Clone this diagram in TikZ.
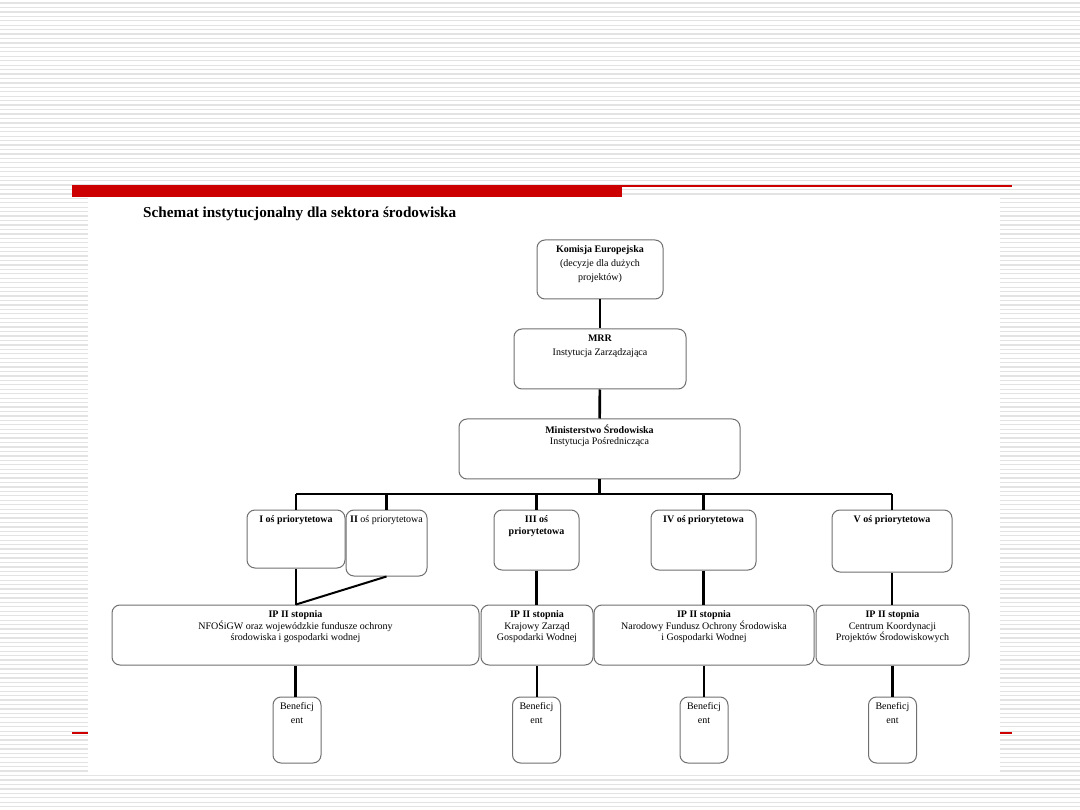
\documentclass[tikz,border=0pt]{standalone}
\usepackage{fontspec}
\setmainfont{Liberation Serif}
\usetikzlibrary{positioning}
\definecolor{stripe}{HTML}{E3E3E3}
\definecolor{barred}{HTML}{CC0000}
\definecolor{boxline}{HTML}{707070}
\tikzset{
  obox/.style={draw=boxline,fill=white,rounded corners=8pt,line width=1pt,inner sep=0pt},
  otxt/.style={anchor=north,yshift=-6pt,align=center,inner sep=0pt,font=\fontsize{10}{11.5}\selectfont},
  owide/.style={otxt,font=\fontsize{10}{14}\selectfont},
  olink/.style={line width=2.6pt,draw=black},
  oslant/.style={line width=2pt,draw=black}
}

\begin{document}
\begin{tikzpicture}[x=1pt,y=-1pt]
  \useasboundingbox (0,0) rectangle (1080,810);
  % background
  \foreach \i in {0,...,182}
    \draw[stripe,line width=1.3pt] (0,3+\i*4.44) -- (1080,3+\i*4.44);
  \fill[barred] (72,732.2) rectangle (1012,734);
  \fill[white] (88,198) rectangle (1000,775);
  \fill[barred] (72,185) rectangle (622,197);
  \fill[barred] (622,185) rectangle (1012,187.5);
  \node[font=\bfseries\fontsize{15.2}{18}\selectfont,anchor=west,inner sep=0pt] (title) at (143,214) {Schemat instytucjonalny dla sektora środowiska};
  % top levels
  \node[obox,minimum width=126pt,minimum height=59pt,label={[owide]north:{\textbf{Komisja Europejska}\\(decyzje dla dużych\\projektów)}}] (ke) at (600,269.5) {};
  \node[obox,minimum width=172pt,minimum height=60pt,label={[owide]north:{\textbf{MRR}\\Instytucja Zarządzająca}}] (mrr) at (600,359) {};
  \node[obox,minimum width=281pt,minimum height=60pt,label={[otxt]north:{\textbf{Ministerstwo Środowiska}\\Instytucja Pośrednicząca}}] (ms) at (599.5,449) {};
  \draw[olink] (ke) -- (mrr);
  \draw[olink] (mrr) -- (ms);
  % priority axes
  \node[obox,minimum width=98pt,minimum height=58pt,label={[otxt]north:{\textbf{I oś priorytetowa}}}] (os1) at (296,539) {};
  \node[obox,minimum width=81pt,minimum height=66pt,label={[otxt]north:{\textbf{II} oś priorytetowa}}] (os2) at (386.5,543) {};
  \node[obox,minimum width=85pt,minimum height=60pt,label={[otxt]north:{\textbf{III oś}\\\textbf{priorytetowa}}}] (os3) at (536.5,540) {};
  \node[obox,minimum width=105pt,minimum height=60pt,label={[otxt]north:{\textbf{IV oś priorytetowa}}}] (os4) at (703.5,540) {};
  \node[obox,minimum width=120pt,minimum height=62pt,label={[otxt]north:{\textbf{V oś priorytetowa}}}] (os5) at (892,541) {};
  \coordinate (busl) at (296,494);
  \coordinate (busr) at (892,494);
  \draw[olink] (ms) -- (ms |- busl);
  \draw[olink] (busl) -- (busr);
  \foreach \n in {os1,os2,os3,os4,os5}
    \draw[olink] (\n) -- (\n |- busl);
  % second level bodies
  \node[obox,minimum width=367pt,minimum height=60pt,label={[otxt]north:{\textbf{IP II stopnia}\\NFOŚiGW oraz wojewódzkie fundusze ochrony\\środowiska i gospodarki wodnej}}] (ip1) at (295.5,635) {};
  \node[obox,minimum width=112pt,minimum height=60pt,label={[otxt]north:{\textbf{IP II stopnia}\\Krajowy Zarząd\\Gospodarki Wodnej}}] (ip2) at (537,635) {};
  \node[obox,minimum width=220pt,minimum height=60pt,label={[otxt]north:{\textbf{IP II stopnia}\\Narodowy Fundusz Ochrony Środowiska\\i Gospodarki Wodnej}}] (ip3) at (704,635) {};
  \node[obox,minimum width=153pt,minimum height=60pt,label={[otxt]north:{\textbf{IP II stopnia}\\Centrum Koordynacji\\Projektów Środowiskowych}}] (ip4) at (892.5,635) {};
  \draw[olink] (os1) -- (os1 |- ip1.north);
  \draw[oslant] (os2.south) -- (os1.south |- ip1.north);
  \draw[olink] (os3) -- (os3 |- ip2.north);
  \draw[olink] (os4) -- (os4 |- ip3.north);
  \draw[olink] (os5) -- (os5 |- ip4.north);
  % beneficiaries
  \foreach \n/\x [count=\k] in {ip1/297,ip2/536.5,ip3/704,ip4/892.5} {
    \node[obox,minimum width=48pt,minimum height=66pt,label={[owide]north:{Beneficj\\ent}}] (ben\k) at (\x,730) {};
    \draw[olink] (\n) -- (\n |- ben\k.north);
  }
\end{tikzpicture}
\end{document}
